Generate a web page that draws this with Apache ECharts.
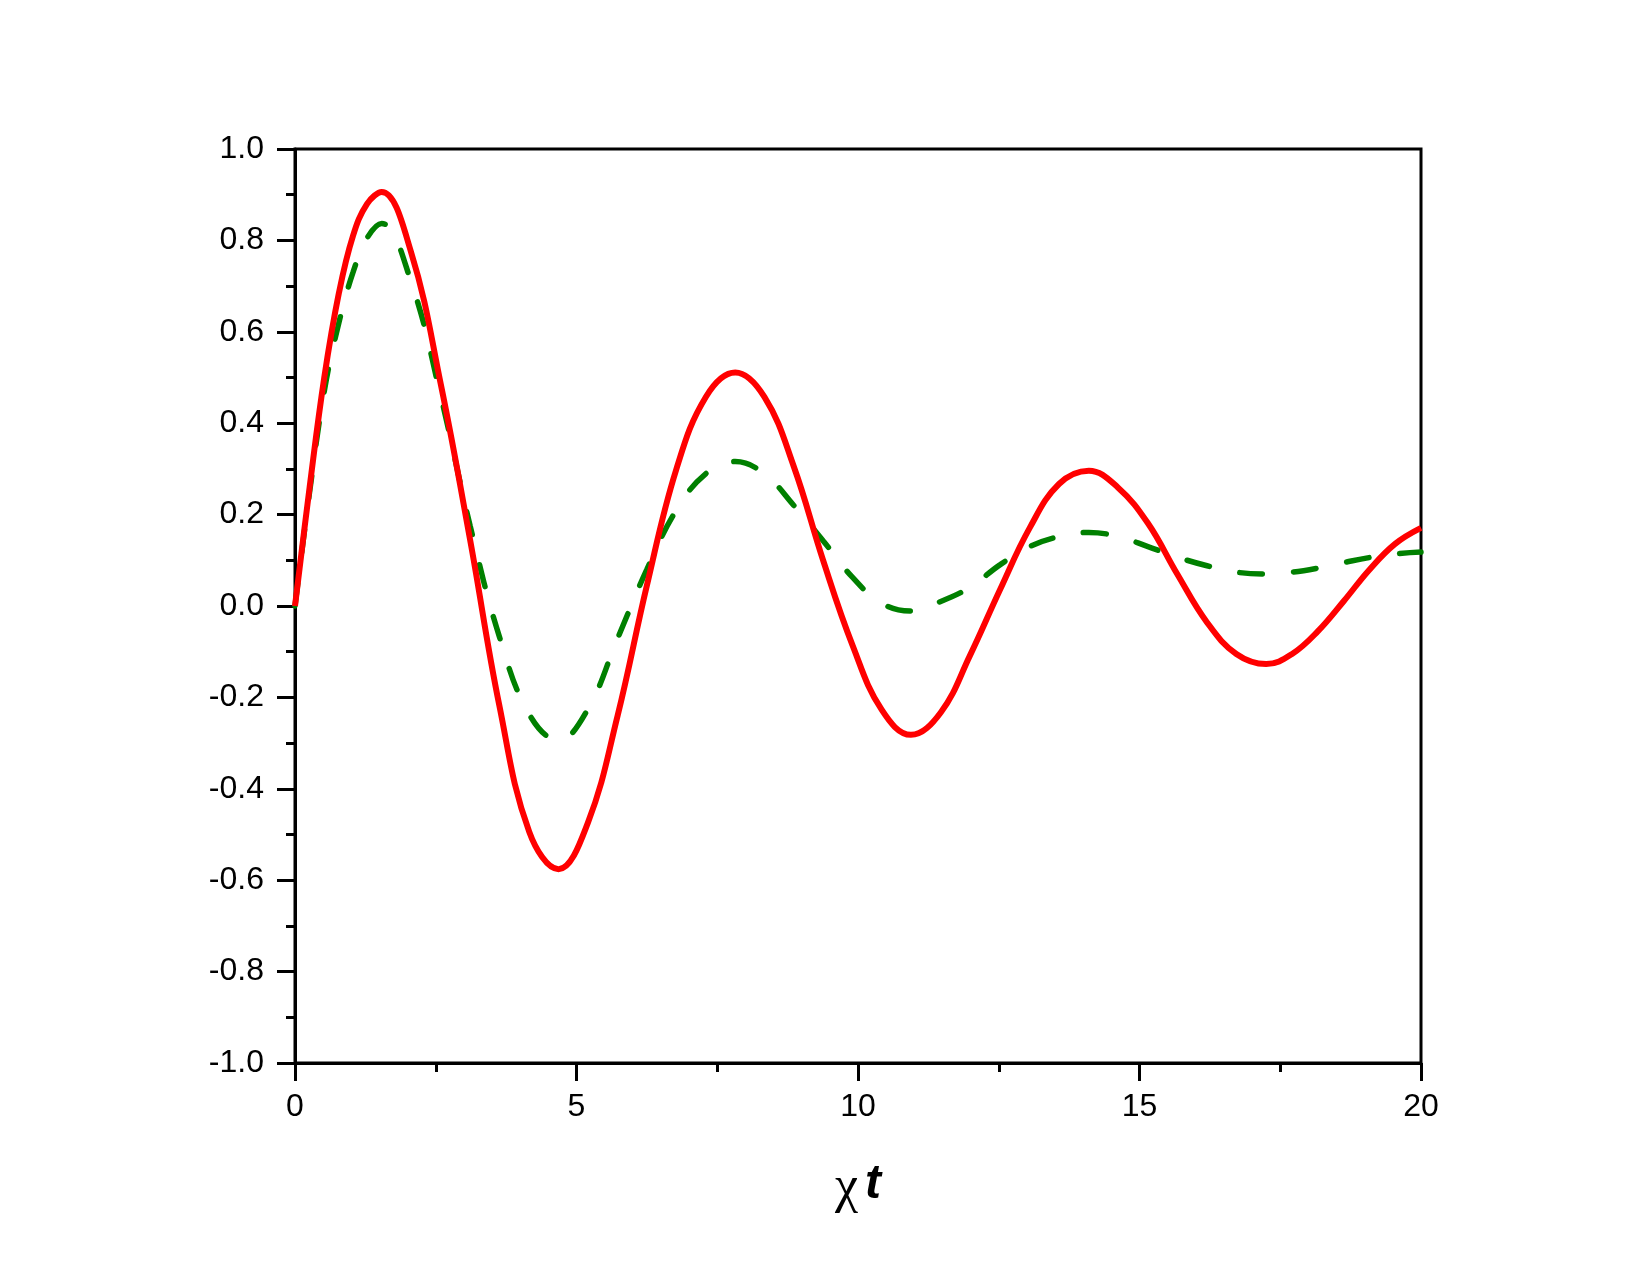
<!DOCTYPE html>
<html>
<head>
<meta charset="utf-8">
<script src="https://cdn.jsdelivr.net/npm/echarts@6/dist/echarts.min.js"></script>
<style>
  html, body { margin: 0; padding: 0; background: #fff; }
  #chart { width: 1650px; height: 1275px; }
</style>
</head>
<body>
<div id="chart"></div>
<script>
// Sample positions (chi*t), placed so peaks and troughs fall on samples
var tValues = [0,0.26,0.52,0.78,1.03,1.28,1.54,2.06,2.59,3.11,3.63,4.16,4.68,
  5.20,5.73,6.25,6.77,7.30,7.82,8.34,8.86,9.38,9.90,10.42,10.94,
  11.47,11.99,12.52,13.05,13.57,14.10,14.62,15.15,15.67,16.20,16.72,17.25,
  17.71,18.17,18.63,19.08,19.54,20.0];
// Red (solid) curve
var redValues = [0,0.26,0.50,0.685,0.81,0.88,0.906,0.775,0.485,0.145,-0.218,-0.494,-0.576,
  -0.475,-0.24,0.045,0.298,0.458,0.511,0.457,0.305,0.10,-0.085,-0.227,-0.282,
  -0.233,-0.108,0.035,0.171,0.267,0.296,0.259,0.181,0.07,-0.036,-0.105,-0.127,
  -0.105,-0.055,0.011,0.079,0.136,0.171];
// Green (dashed) curve
var greenValues = [0,0.25,0.47,0.62,0.73,0.805,0.837,0.71,0.459,0.176,-0.067,-0.237,-0.294,
  -0.226,-0.071,0.08,0.209,0.29,0.316,0.289,0.22,0.143,0.063,0.006,-0.011,
  0.010,0.041,0.09,0.13,0.152,0.161,0.152,0.13,0.107,0.088,0.074,0.070,
  0.074,0.083,0.095,0.106,0.114,0.118];

var xTicks = [0, 5, 10, 15, 20];
var yTicks = [-1.0, -0.8, -0.6, -0.4, -0.2, 0.0, 0.2, 0.4, 0.6, 0.8, 1.0];
var xNameParts = ['χ', 't'];

function pairs(xs, ys) { return xs.map(function (x, i) { return [x, ys[i]]; }); }

var chart = echarts.init(document.getElementById('chart'), null, { renderer: 'canvas' });
var labelFont = { fontFamily: 'Liberation Sans, Arial, sans-serif', fontSize: 32, color: '#000' };

chart.setOption({
  animation: false,
  backgroundColor: '#fff',
  grid: {
    left: 295, top: 149, width: 1126, height: 914,
    show: true, borderColor: '#000', borderWidth: 3, backgroundColor: 'transparent'
  },
  xAxis: {
    type: 'value',
    min: xTicks[0], max: xTicks[xTicks.length - 1], interval: xTicks[1] - xTicks[0],
    name: '{a|' + xNameParts[0] + '}{b|' + xNameParts[1] + '}',
    nameLocation: 'middle',
    nameGap: 98,
    nameTextStyle: {
      rich: {
        a: { fontFamily: 'Liberation Serif, serif', fontSize: 52, color: '#000' },
        b: { fontFamily: 'Liberation Sans, Arial, sans-serif', fontSize: 48, color: '#000', fontStyle: 'italic', fontWeight: 'bold', padding: [0, 0, 6, 7] }
      }
    },
    axisLine: { show: true, onZero: false, lineStyle: { color: '#000', width: 3 } },
    axisTick: { show: true, inside: false, length: 18, lineStyle: { color: '#000', width: 3 } },
    minorTick: { show: true, splitNumber: 2, length: 9, lineStyle: { color: '#000', width: 3 } },
    axisLabel: Object.assign({ margin: 28, formatter: function (v) { return String(v); } }, labelFont),
    splitLine: { show: false },
    minorSplitLine: { show: false }
  },
  yAxis: {
    type: 'value',
    min: yTicks[0], max: yTicks[yTicks.length - 1], interval: 0.2,
    axisLine: { show: true, onZero: false, lineStyle: { color: '#000', width: 3 } },
    axisTick: { show: true, inside: false, length: 18, lineStyle: { color: '#000', width: 3 } },
    minorTick: { show: true, splitNumber: 2, length: 9, lineStyle: { color: '#000', width: 3 } },
    axisLabel: Object.assign({ margin: 31, formatter: function (v) { return v.toFixed(1); } }, labelFont),
    splitLine: { show: false },
    minorSplitLine: { show: false }
  },
  series: [
    {
      type: 'line',
      data: pairs(tValues, greenValues),
      smooth: 0.4,
      showSymbol: false,
      lineStyle: { color: '#008000', width: 5.5, type: [23, 31], cap: 'round' },
      z: 2
    },
    {
      type: 'line',
      data: pairs(tValues, redValues),
      smooth: 0.4,
      showSymbol: false,
      lineStyle: { color: '#FF0000', width: 6 },
      z: 3
    }
  ]
});
</script>
</body>
</html>
